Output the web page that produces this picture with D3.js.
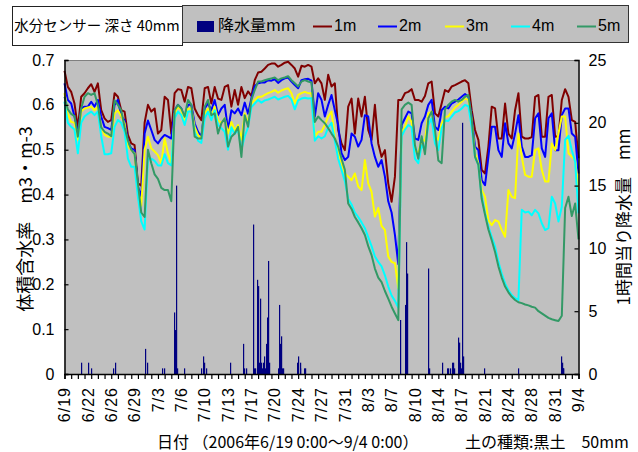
<!DOCTYPE html>
<html>
<head>
<meta charset="utf-8">
<script src="https://cdn.jsdelivr.net/npm/d3@7"></script>
<style>
  html, body { margin: 0; padding: 0; background: #ffffff; }
  svg { display: block; }
</style>
</head>
<body>
<svg id="chart" width="638" height="452"></svg>
<script>
// Soil moisture (40 mm sensor) at five distances, with hourly rainfall, 2006-06-19 to 2006-09-04.

// Moisture readings every 12 hours starting 6/19 0:00 (m3/m3)
const stepHours = 12;
const m1 = [0.676,0.640,0.629,0.603,0.548,0.618,0.626,0.637,0.646,0.629,0.648,0.588,0.570,0.562,0.566,0.626,0.618,0.588,0.585,0.533,
  0.514,0.510,0.425,0.420,0.560,0.600,0.585,0.592,0.536,0.544,0.618,0.611,0.536,0.626,0.635,0.633,0.607,0.640,0.637,0.592,
  0.577,0.566,0.637,0.640,0.603,0.640,0.614,0.611,0.640,0.644,0.596,0.633,0.600,0.640,0.615,0.630,0.620,0.655,0.672,0.674,
  0.681,0.689,0.692,0.692,0.685,0.689,0.694,0.696,0.689,0.681,0.663,0.687,0.685,0.689,0.685,0.648,0.659,0.648,0.611,0.667,
  0.641,0.648,0.544,0.514,0.499,0.596,0.614,0.536,0.614,0.574,0.618,0.544,0.522,0.600,0.514,0.484,0.499,0.425,0.384,0.440,
  0.611,0.611,0.626,0.629,0.635,0.611,0.611,0.607,0.620,0.648,0.652,0.581,0.574,0.603,0.633,0.629,0.641,0.644,0.648,0.652,
  0.655,0.648,0.588,0.544,0.522,0.455,0.447,0.507,0.596,0.592,0.525,0.525,0.603,0.536,0.525,0.588,0.626,0.529,0.525,0.525,
  0.528,0.618,0.622,0.529,0.529,0.618,0.622,0.529,0.530,0.611,0.635,0.618,0.566,0.562,0.481];
const m2 = [0.648,0.611,0.603,0.574,0.536,0.592,0.596,0.596,0.607,0.596,0.611,0.574,0.551,0.548,0.544,0.600,0.611,0.574,0.566,0.518,
  0.503,0.499,0.418,0.395,0.536,0.565,0.544,0.522,0.514,0.525,0.533,0.529,0.525,0.588,0.600,0.592,0.570,0.600,0.600,0.559,
  0.540,0.529,0.592,0.603,0.588,0.611,0.577,0.592,0.600,0.544,0.588,0.581,0.592,0.577,0.605,0.580,0.615,0.642,0.648,0.650,
  0.650,0.655,0.654,0.657,0.649,0.655,0.659,0.661,0.652,0.644,0.637,0.655,0.657,0.658,0.654,0.574,0.626,0.611,0.574,0.600,
  0.622,0.588,0.555,0.492,0.477,0.484,0.536,0.529,0.507,0.522,0.577,0.574,0.514,0.484,0.462,0.477,0.440,0.385,0.360,0.310,
  0.245,0.555,0.570,0.585,0.581,0.525,0.522,0.559,0.574,0.600,0.611,0.551,0.544,0.588,0.596,0.592,0.603,0.607,0.612,0.618,
  0.624,0.618,0.574,0.507,0.499,0.432,0.421,0.484,0.551,0.551,0.499,0.484,0.559,0.514,0.503,0.536,0.577,0.507,0.484,0.484,
  0.488,0.570,0.581,0.503,0.484,0.570,0.581,0.499,0.499,0.577,0.592,0.592,0.536,0.529,0.447];
const m3 = [0.626,0.580,0.562,0.560,0.522,0.585,0.592,0.594,0.596,0.588,0.596,0.550,0.533,0.529,0.529,0.581,0.588,0.574,0.559,0.507,
  0.499,0.492,0.410,0.375,0.500,0.529,0.503,0.496,0.488,0.470,0.525,0.492,0.470,0.581,0.596,0.588,0.562,0.592,0.592,0.551,
  0.533,0.525,0.581,0.592,0.574,0.596,0.566,0.559,0.570,0.536,0.562,0.544,0.555,0.522,0.581,0.559,0.603,0.611,0.618,0.618,
  0.622,0.626,0.629,0.633,0.627,0.632,0.635,0.637,0.626,0.603,0.622,0.626,0.629,0.626,0.626,0.529,0.540,0.540,0.555,0.574,
  0.585,0.529,0.492,0.470,0.447,0.440,0.432,0.447,0.418,0.410,0.477,0.425,0.406,0.351,0.370,0.330,0.321,0.262,0.250,0.247,
  0.191,0.540,0.551,0.574,0.562,0.499,0.492,0.522,0.520,0.581,0.585,0.529,0.522,0.559,0.572,0.575,0.585,0.594,0.600,0.607,
  0.614,0.611,0.566,0.492,0.470,0.410,0.395,0.343,0.332,0.343,0.340,0.321,0.306,0.410,0.395,0.392,0.536,0.484,0.444,0.440,
  0.440,0.499,0.503,0.455,0.429,0.429,0.514,0.499,0.536,0.574,0.574,0.492,0.484,0.477,0.410];
const m4 = [0.607,0.560,0.551,0.545,0.492,0.560,0.574,0.580,0.585,0.577,0.585,0.530,0.490,0.490,0.492,0.551,0.566,0.560,0.540,0.480,
  0.462,0.462,0.395,0.340,0.322,0.480,0.480,0.475,0.465,0.465,0.490,0.470,0.465,0.570,0.585,0.577,0.555,0.585,0.585,0.540,
  0.520,0.515,0.570,0.585,0.566,0.588,0.555,0.548,0.540,0.500,0.550,0.535,0.545,0.500,0.530,0.550,0.595,0.603,0.611,0.605,
  0.610,0.612,0.615,0.618,0.612,0.615,0.618,0.620,0.612,0.590,0.610,0.614,0.616,0.614,0.615,0.520,0.530,0.525,0.530,0.550,
  0.560,0.520,0.480,0.455,0.430,0.390,0.378,0.360,0.350,0.338,0.325,0.305,0.285,0.262,0.250,0.240,0.220,0.195,0.175,0.163,
  0.148,0.530,0.545,0.555,0.550,0.480,0.470,0.510,0.499,0.555,0.570,0.514,0.499,0.548,0.565,0.564,0.574,0.583,0.586,0.592,
  0.600,0.597,0.551,0.484,0.466,0.395,0.358,0.328,0.306,0.284,0.250,0.224,0.202,0.187,0.176,0.169,0.165,0.366,0.360,0.362,
  0.354,0.366,0.358,0.336,0.321,0.325,0.395,0.380,0.340,0.373,0.522,0.531,0.499,0.473,0.358];
const m5 = [0.618,0.590,0.580,0.575,0.529,0.592,0.618,0.626,0.622,0.626,0.600,0.550,0.540,0.536,0.530,0.610,0.600,0.588,0.550,0.520,
  0.500,0.490,0.425,0.360,0.350,0.500,0.470,0.445,0.435,0.415,0.410,0.410,0.385,0.588,0.600,0.592,0.574,0.611,0.600,0.529,
  0.525,0.525,0.596,0.611,0.577,0.581,0.536,0.559,0.570,0.507,0.529,0.536,0.551,0.484,0.577,0.551,0.611,0.633,0.652,0.652,
  0.655,0.657,0.659,0.661,0.655,0.659,0.661,0.664,0.655,0.648,0.641,0.652,0.655,0.652,0.650,0.562,0.574,0.566,0.559,0.548,
  0.536,0.525,0.507,0.480,0.455,0.380,0.368,0.350,0.338,0.325,0.310,0.285,0.265,0.235,0.215,0.205,0.185,0.168,0.150,0.135,
  0.120,0.590,0.600,0.605,0.600,0.510,0.480,0.530,0.490,0.570,0.585,0.545,0.476,0.470,0.590,0.600,0.607,0.611,0.607,0.611,
  0.618,0.622,0.570,0.484,0.466,0.390,0.355,0.322,0.298,0.272,0.240,0.215,0.195,0.182,0.172,0.165,0.160,0.158,0.155,0.153,
  0.150,0.148,0.140,0.135,0.130,0.125,0.122,0.120,0.118,0.130,0.370,0.395,0.352,0.380,0.300];

const seriesNames = ["1m", "2m", "3m", "4m", "5m"];
const seriesColors = ["#800000", "#0000ff", "#ffff00", "#00ffff", "#339966"];

// Hourly rainfall: hours after 6/19 0:00, and mm in that hour
const rainHour = [59,83,97,176,182,291,295,352,356,395,399,402,406,431,489,499,503,507,594,640,647,652,
  679,682,686,691,693,697,701,704,708,711,715,719,722,726,729,733,737,769,772,776,780,783,787,
  837,841,845,848,862,866,1207,1225,1229,1232,1308,1311,1358,1376,1380,1386,1394,1398,1401,
  1416,1419,1423,1426,1430,1434,1509,1631,1785,1787,1791,1793];
const rainMm = [0.9,0.9,0.45,0.45,0.9,2.0,0.9,0.45,0.45,4.9,3.5,15.0,0.45,0.45,0.45,1.4,0.9,0.45,0.9,2.4,0.45,0.45,
  11.9,0.45,0.45,0.45,7.5,7.0,0.9,6.0,0.9,0.45,0.9,1.4,0.45,2.4,4.5,9.0,0.9,0.45,5.5,2.4,3.0,0.45,0.45,
  0.9,1.4,0.45,0.9,0.45,0.45,4.3,5.5,10.5,8.0,8.4,0.45,0.9,0.45,0.45,0.45,0.9,0.9,0.45,
  2.9,2.5,0.9,0.45,20.0,1.4,0.45,0.45,1.4,0.9,0.45,0.45];

// Date axis: one label every 84 hours
const dateLabels = ["6/19","6/22","6/26","6/29","7/3","7/6","7/10","7/13","7/17","7/20","7/24","7/27",
  "7/31","8/3","8/7","8/10","8/14","8/17","8/21","8/24","8/28","8/31","9/4"];
const labelEveryHours = 84;
const totalHours = 77 * 24;

const leftTicks = [0, 0.1, 0.2, 0.3, 0.4, 0.5, 0.6, 0.7];
const rightTicks = [0, 5, 10, 15, 20, 25];

const FONT = "'Liberation Sans Narrow','Liberation Sans','Noto Sans CJK JP',sans-serif";
const CJK = "'Noto Sans CJK JP','Liberation Sans',sans-serif";

const svg = d3.select("#chart");
const plot = { left: 64.5, right: 578.5, top: 60, bottom: 374 };

const x = d3.scaleLinear().domain([0, totalHours]).range([plot.left, plot.right]);
const yL = d3.scaleLinear().domain([0, 0.7]).range([plot.bottom, plot.top]);
const yR = d3.scaleLinear().domain([0, 25]).range([plot.bottom, plot.top]);

// plot background
svg.append("rect")
  .attr("x", plot.left).attr("y", plot.top)
  .attr("width", plot.right - plot.left).attr("height", plot.bottom - plot.top)
  .attr("fill", "#c0c0c0");
svg.append("line")
  .attr("x1", plot.left).attr("x2", plot.right)
  .attr("y1", plot.top + 0.5).attr("y2", plot.top + 0.5)
  .attr("stroke", "#808080").attr("stroke-width", 1);

// rainfall bars
const rain = rainHour.map((h, i) => ({ h, mm: rainMm[i] }));
svg.append("g").selectAll("rect").data(rain).join("rect")
  .attr("x", d => Math.round(x(d.h)))
  .attr("y", d => yR(d.mm))
  .attr("width", 1.2)
  .attr("height", d => yR(0) - yR(d.mm))
  .attr("fill", "#000080");

// moisture lines
const allSeries = [m1, m2, m3, m4, m5];
const line = d3.line()
  .x((d, i) => x(i * stepHours))
  .y(d => yL(d));
svg.append("g").selectAll("path").data(allSeries).join("path")
  .attr("d", d => line(d))
  .attr("fill", "none")
  .attr("stroke", (d, i) => seriesColors[i])
  .attr("stroke-width", 2)
  .attr("stroke-linejoin", "round");

// left axis
const gL = svg.append("g").attr("transform", `translate(${plot.left},0)`)
  .call(d3.axisLeft(yL).tickValues(leftTicks).tickSize(-4).tickPadding(10)
    .tickFormat(d => d === 0 ? "0" : d3.format(".1f")(d)));
// right axis
const gR = svg.append("g").attr("transform", `translate(${plot.right},0)`)
  .call(d3.axisRight(yR).tickValues(rightTicks).tickSize(-4).tickPadding(10));
// bottom axis: daily ticks
const dayTicks = d3.range(0, 78).map(d => d * 24);
const gB = svg.append("g").attr("transform", `translate(0,${plot.bottom})`)
  .call(d3.axisBottom(x).tickValues(dayTicks).tickSize(5).tickFormat(""));

[gL, gR, gB].forEach(g => {
  g.select(".domain").attr("stroke", "#000").attr("stroke-width", 1.5);
  g.selectAll(".tick line").attr("stroke", "#000").attr("stroke-width", 1.2);
  g.selectAll("text").attr("font-family", FONT).attr("font-size", 16).attr("fill", "#000");
});

// rotated date labels
svg.append("g").selectAll("text").data(dateLabels).join("text")
  .attr("transform", (d, i) => `translate(${x(i * labelEveryHours) + 1.5},387) rotate(-90)`)
  .attr("text-anchor", "end")
  .attr("dominant-baseline", "middle")
  .attr("font-family", FONT)
  .attr("font-size", 16)
  .attr("letter-spacing", 1)
  .text(d => d);

// axis titles
svg.append("text")
  .attr("transform", "translate(27,219) rotate(-90)")
  .attr("text-anchor", "middle").attr("dominant-baseline", "middle")
  .attr("font-family", CJK).attr("font-size", 18)
  .text("体積含水率　m3・m-3");
svg.append("text")
  .attr("transform", "translate(625,217) rotate(-90)")
  .attr("text-anchor", "middle").attr("dominant-baseline", "middle")
  .attr("font-family", CJK).attr("font-size", 17)
  .text("1時間当り降水量　mm");
svg.append("text")
  .attr("x", 157).attr("y", 448)
  .attr("font-family", CJK).attr("font-size", 16)
  .text("日付 （2006年6/19 0:00〜9/4 0:00）");
svg.append("text")
  .attr("x", 465).attr("y", 448)
  .attr("font-family", CJK).attr("font-size", 16)
  .text("土の種類:黒土　50mm");

// title box
svg.append("rect").attr("x", 12.5).attr("y", 6.5).attr("width", 170).attr("height", 39)
  .attr("fill", "#fff").attr("stroke", "#222").attr("stroke-width", 1);
svg.append("text").attr("x", 97).attr("y", 27)
  .attr("text-anchor", "middle").attr("dominant-baseline", "middle")
  .attr("font-family", CJK).attr("font-size", 14.5)
  .text("水分センサー 深さ 40mm");

// legend
const lg = svg.append("g");
lg.append("rect").attr("x", 182.5).attr("y", 5.5).attr("width", 446).attr("height", 37)
  .attr("fill", "#c0c0c0").attr("stroke", "#333").attr("stroke-width", 1);
lg.append("rect").attr("x", 197).attr("y", 21).attr("width", 17).attr("height", 11).attr("fill", "#000080");
lg.append("text").attr("x", 218).attr("y", 27).attr("dominant-baseline", "middle")
  .attr("font-family", CJK).attr("font-size", 16).text("降水量mm");
const legendX = [313, 378, 445, 511, 577];
seriesNames.forEach((name, i) => {
  lg.append("line").attr("x1", legendX[i]).attr("x2", legendX[i] + 19)
    .attr("y1", 26.5).attr("y2", 26.5)
    .attr("stroke", seriesColors[i]).attr("stroke-width", 2);
  lg.append("text").attr("x", legendX[i] + 21).attr("y", 27).attr("dominant-baseline", "middle")
    .attr("font-family", FONT).attr("font-size", 16).text(name);
});
</script>
</body>
</html>
